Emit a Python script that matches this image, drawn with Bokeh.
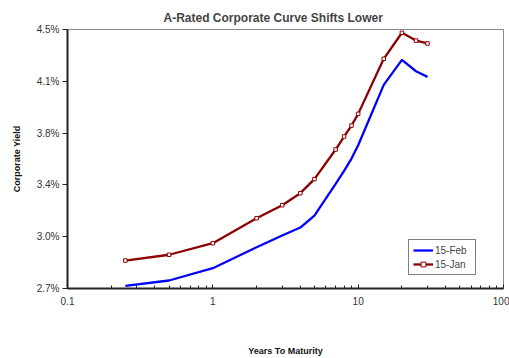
from bokeh.plotting import figure
from bokeh.models import FixedTicker, Legend, LegendItem, Range1d
from bokeh.embed import file_html
from bokeh.resources import INLINE

maturity = [0.25, 0.5, 1, 2, 3, 4, 5, 7, 8, 9, 10, 15, 20, 25, 30]
feb_yield = [2.718, 2.754, 2.837, 2.979, 3.058, 3.112, 3.193, 3.407, 3.495, 3.578, 3.668, 4.076, 4.245, 4.168, 4.130]
jan_yield = [2.889, 2.928, 3.006, 3.175, 3.263, 3.344, 3.439, 3.639, 3.727, 3.801, 3.880, 4.252, 4.428, 4.375, 4.356]
y_ticks = [2.7, 3.05, 3.4, 3.75, 4.1, 4.45]
y_tick_labels = ["2.7%", "3.0%", "3.4%", "3.8%", "4.1%", "4.5%"]
x_ticks = [0.1, 1, 10, 100]
x_tick_labels = ["0.1", "1", "10", "100"]

FONT = "Liberation Sans"

p = figure(width=509, height=358, x_axis_type="log", output_backend="svg",
           toolbar_location=None, x_range=Range1d(0.1, 100), y_range=Range1d(2.7, 4.45),
           min_border_left=67, min_border_right=6, min_border_top=29, min_border_bottom=70)
p.background_fill_color = "white"
p.border_fill_color = "white"
p.outline_line_color = "#888888"
p.outline_line_width = 1
p.xgrid.visible = False
p.ygrid.visible = False

p.title.text = "A-Rated Corporate Curve Shifts Lower"
p.title.text_font = FONT
p.title.text_font_size = "12px"
p.title.text_font_style = "bold"
p.title.align = "left"
p.title.offset = 96
p.title.standoff = 9

l1 = p.line(maturity, feb_yield, line_color="#0000FF", line_width=2.3)
l2 = p.line(maturity, jan_yield, line_color="#8B0000", line_width=2.3)
m2 = p.scatter(maturity, jan_yield, marker="square", size=3.5, fill_color="white",
               line_color="#8B0000", line_width=1)

p.yaxis.ticker = FixedTicker(ticks=y_ticks)
p.yaxis.major_label_overrides = {t: s for t, s in zip(y_ticks, y_tick_labels)}
p.xaxis.ticker = FixedTicker(ticks=x_ticks, minor_ticks=[0.2,0.3,0.4,0.5,0.6,0.7,0.8,0.9,2,3,4,5,6,7,8,9,20,30,40,50,60,70,80,90])
p.xaxis.major_label_overrides = {t: s for t, s in zip(x_ticks, x_tick_labels)}

for ax in (p.xaxis[0], p.yaxis[0]):
    ax.axis_line_color = "#222222"
    ax.axis_line_width = 2
    ax.major_tick_line_color = "#222222"
    ax.minor_tick_line_color = "#222222"
    ax.major_label_text_font = FONT
    ax.major_label_text_font_size = "10px"
    ax.major_label_text_color = "#333333"
    ax.axis_label_text_font = FONT
    ax.axis_label_text_font_style = "bold"
    ax.axis_label_text_font_size = "9px"
    ax.axis_label_text_color = "#111111"

p.yaxis.major_tick_out = 5
p.yaxis.major_tick_in = 0
p.yaxis.minor_tick_line_color = None
p.yaxis.major_label_standoff = 3
p.yaxis.axis_label = "Corporate Yield"
p.yaxis.axis_label_standoff = 12

p.xaxis.major_tick_in = 4
p.xaxis.major_tick_out = 0
p.xaxis.minor_tick_in = 3
p.xaxis.minor_tick_out = 0
p.xaxis.major_label_standoff = 8
p.xaxis.axis_label = "Years To Maturity"
p.xaxis.axis_label_standoff = 38

legend = Legend(items=[LegendItem(label="15-Feb", renderers=[l1]),
                       LegendItem(label="15-Jan", renderers=[l2, m2])],
                location=(341, 13), label_text_font=FONT, label_text_font_size="10px",
                border_line_color="black", border_line_width=1, glyph_width=20, glyph_height=12,
                label_standoff=2, padding=4, spacing=2, margin=0, label_height=12,
                label_width=36)
p.add_layout(legend, "center")

open("out.html", "w").write(file_html(p, INLINE))
